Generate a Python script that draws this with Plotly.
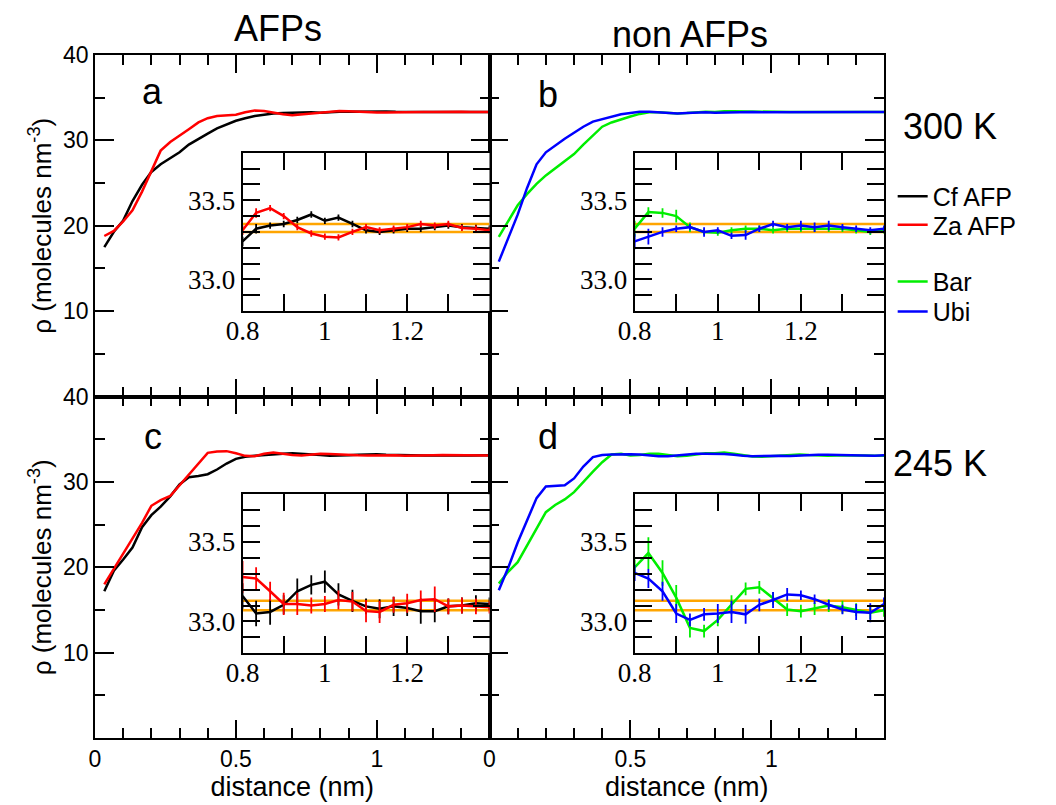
import plotly.graph_objects as go

# ---------------- data ----------------
distance = [0.033, 0.067, 0.100, 0.133, 0.167, 0.200, 0.233, 0.267, 0.300, 0.333,
            0.367, 0.400, 0.433, 0.467, 0.500, 0.533, 0.567, 0.600, 0.633, 0.667,
            0.700, 0.733, 0.767, 0.800, 0.833, 0.867, 0.900, 0.933, 0.967, 1.000,
            1.033, 1.067, 1.100, 1.133, 1.167, 1.200, 1.233, 1.267, 1.300, 1.333,
            1.367, 1.400]

# 300 K
cf_300 = [17.5, 19.3, 20.6, 22.9, 24.8, 26.3, 27.2, 27.9, 28.6, 29.5,
          30.2, 30.8, 31.4, 31.9, 32.3, 32.6, 32.85, 33.0, 33.15, 33.2,
          33.25, 33.28, 33.3,
          33.24, 33.32, 33.34, 33.35, 33.375, 33.41, 33.37, 33.39, 33.35, 33.31,
          33.30, 33.31, 33.32, 33.32, 33.33, 33.34, 33.33, 33.325, 33.32]
za_300 = [18.8, 19.4, 20.5, 21.8, 24.0, 26.3, 28.8, 29.8, 30.6, 31.3,
          32.1, 32.6, 32.85, 32.9, 33.0, 33.3, 33.5, 33.45, 33.25, 33.05,
          32.95, 33.05, 33.2,
          33.31, 33.42, 33.45, 33.40, 33.33, 33.29, 33.27, 33.265, 33.30, 33.33,
          33.31, 33.32, 33.33, 33.35, 33.34, 33.35, 33.325, 33.32, 33.31]
bar_300 = [18.7, 20.6, 22.4, 23.7, 24.9, 25.9, 26.7, 27.5, 28.4, 29.5,
           30.6, 31.6, 32.1, 32.5, 32.8, 33.1, 33.3, 33.3, 33.2, 33.15,
           33.2, 33.3, 33.35,
           33.32, 33.425, 33.42, 33.40, 33.33, 33.30, 33.295, 33.31, 33.32, 33.32,
           33.31, 33.32, 33.32, 33.32, 33.32, 33.32, 33.31, 33.30, 33.31]
ubi_300 = [15.8, 18.6, 21.3, 24.4, 27.2, 28.6, 29.4, 30.2, 30.9, 31.6,
           32.2, 32.5, 32.8, 33.05, 33.2, 33.35, 33.35, 33.3, 33.2, 33.15,
           33.2, 33.25, 33.3,
           33.24, 33.27, 33.30, 33.32, 33.33, 33.30, 33.31, 33.275, 33.28, 33.32,
           33.35, 33.33, 33.34, 33.33, 33.34, 33.33, 33.32, 33.31, 33.32]

# 245 K
cf_245 = [17.2, 19.6, 20.9, 22.3, 24.7, 26.1, 27.1, 28.3, 29.7, 30.55,
          30.7, 30.9, 31.45, 32.15, 32.7, 32.95, 33.05, 33.15, 33.2, 33.3,
          33.35, 33.3, 33.2,
          33.16, 33.05, 33.06, 33.105, 33.19, 33.23, 33.25, 33.17, 33.13, 33.095,
          33.08, 33.095, 33.085, 33.065, 33.065, 33.095, 33.10, 33.115, 33.11]
za_245 = [18.0, 19.8, 21.5, 23.3, 25.2, 27.2, 27.85, 28.35, 29.6, 30.9,
          32.2, 33.4, 33.55, 33.6, 33.35, 33.05, 33.0, 33.3, 33.45, 33.3,
          33.15, 33.1, 33.2,
          33.28, 33.27, 33.19, 33.11, 33.11, 33.10, 33.11, 33.135, 33.125, 33.065,
          33.06, 33.105, 33.115, 33.135, 33.14, 33.095, 33.10, 33.095, 33.09]
bar_245 = [18.1, 19.5, 20.6, 22.5, 24.6, 26.45, 27.3, 27.95, 28.8, 30.0,
           31.2, 32.3, 33.2, 33.3, 33.1, 33.15, 33.3, 33.3, 33.15, 33.0,
           33.05, 33.2, 33.35,
           33.34, 33.43, 33.305, 33.15, 32.96, 32.94, 33.01, 33.105, 33.205, 33.215,
           33.145, 33.075, 33.065, 33.08, 33.10, 33.09, 33.075, 33.055, 33.07]
ubi_245 = [17.3, 20.0, 22.9, 25.4, 28.1, 29.45, 29.5, 29.6, 30.4, 31.8,
           32.9, 33.15, 33.2, 33.25, 33.25, 33.2, 33.1, 33.0, 33.0, 33.1,
           33.25, 33.3, 33.3,
           33.305, 33.27, 33.19, 33.05, 33.01, 33.045, 33.05, 33.06, 33.045, 33.105,
           33.135, 33.17, 33.165, 33.14, 33.105, 33.075, 33.06, 33.055, 33.11]

# error bars for the inset points (distance >= 0.8 nm)
cf_300_err = [0.03, 0.03, 0.02, 0.02, 0.02, 0.02, 0.02, 0.02, 0.02, 0.02,
              0.02, 0.02, 0.02, 0.02, 0.02, 0.02, 0.02, 0.02, 0.02]
za_300_err = [0.03, 0.03, 0.02, 0.02, 0.02, 0.02, 0.02, 0.02, 0.02, 0.02,
              0.02, 0.02, 0.02, 0.02, 0.02, 0.02, 0.02, 0.02, 0.02]
bar_300_err = [0.05, 0.03, 0.03, 0.04, 0.03, 0.02, 0.02, 0.02, 0.02, 0.02,
               0.02, 0.02, 0.02, 0.02, 0.02, 0.02, 0.02, 0.02, 0.02]
ubi_300_err = [0.05, 0.05, 0.03, 0.02, 0.02, 0.03, 0.02, 0.02, 0.03, 0.02,
               0.02, 0.02, 0.03, 0.03, 0.03, 0.02, 0.02, 0.02, 0.02]
cf_245_err = [0.08, 0.08, 0.08, 0.06, 0.08, 0.06, 0.07, 0.07, 0.07, 0.05,
              0.06, 0.06, 0.05, 0.08, 0.07, 0.05, 0.05, 0.05, 0.04]
za_245_err = [0.10, 0.07, 0.06, 0.07, 0.07, 0.05, 0.05, 0.06, 0.06, 0.07,
              0.07, 0.05, 0.06, 0.06, 0.08, 0.05, 0.05, 0.05, 0.04]
bar_245_err = [0.05, 0.10, 0.08, 0.08, 0.06, 0.04, 0.04, 0.06, 0.04, 0.04,
               0.04, 0.04, 0.04, 0.04, 0.04, 0.04, 0.04, 0.04, 0.04]
ubi_245_err = [0.05, 0.06, 0.06, 0.06, 0.04, 0.04, 0.06, 0.07, 0.06, 0.04,
               0.05, 0.04, 0.03, 0.03, 0.03, 0.03, 0.05, 0.06, 0.04]

# bulk density bands (orange lines)
bulk_300 = [33.30, 33.35]
bulk_245 = [33.07, 33.13]
bulk_x = [0.8, 1.4]

INSET_START = 23  # index of distance 0.8

colors = {"Cf AFP": "#000000", "Za AFP": "#ff0000", "Bar": "#00ee00", "Ubi": "#0000ff"}
legend_of = {"Cf AFP": "legend", "Za AFP": "legend2", "Bar": "legend3", "Ubi": "legend4"}

panels = [
    (("x", "y"), ("x5", "y5"), [("Cf AFP", cf_300, cf_300_err), ("Za AFP", za_300, za_300_err)], bulk_300),
    (("x2", "y2"), ("x6", "y6"), [("Bar", bar_300, bar_300_err), ("Ubi", ubi_300, ubi_300_err)], bulk_300),
    (("x3", "y3"), ("x7", "y7"), [("Cf AFP", cf_245, cf_245_err), ("Za AFP", za_245, za_245_err)], bulk_245),
    (("x4", "y4"), ("x8", "y8"), [("Bar", bar_245, bar_245_err), ("Ubi", ubi_245, ubi_245_err)], bulk_245),
]

fig = go.Figure()
shown = set()
for (mx, my), (ix, iy), series, bulk in panels:
    for name, data, err in series:
        fig.add_trace(go.Scatter(
            x=distance, y=data, xaxis=mx, yaxis=my, mode="lines",
            line=dict(color=colors[name], width=2.5), name=name,
            legend=legend_of[name], showlegend=name not in shown))
        shown.add(name)
    for b in bulk:
        fig.add_trace(go.Scatter(
            x=bulk_x, y=[b, b], xaxis=ix, yaxis=iy, mode="lines",
            line=dict(color="#ffa500", width=2.5), showlegend=False, hoverinfo="skip"))
    for name, data, err in series:
        fig.add_trace(go.Scatter(
            x=distance[INSET_START:], y=data[INSET_START:], xaxis=ix, yaxis=iy,
            mode="lines", line=dict(color=colors[name], width=2.5),
            error_y=dict(type="data", array=err, color=colors[name], thickness=1.8, width=0),
            showlegend=False))

SANS = "Liberation Sans, Arial, sans-serif"
SERIF = "Liberation Serif, Times New Roman, serif"

x_major = [0, 0.5, 1.0]
x_minor = [0.1, 0.2, 0.3, 0.4, 0.6, 0.7, 0.8, 0.9, 1.1, 1.2, 1.3]
y_major = [10, 20, 30, 40]
y_minor = [5, 15, 25, 35]


def main_x(domain, anchor, labels):
    return dict(domain=domain, anchor=anchor, range=[0, 1.4], tickmode="array",
                tickvals=x_major, ticktext=["0", "0.5", "1"], showticklabels=labels,
                ticks="inside", ticklen=18, tickwidth=1.5, tickcolor="black",
                minor=dict(tickmode="array", tickvals=x_minor, ticks="inside", ticklen=10,
                           tickwidth=1.5, tickcolor="black"),
                showline=True, linecolor="black", linewidth=1.5, mirror="ticks",
                showgrid=False, zeroline=False,
                tickfont=dict(family=SANS, size=23, color="black"))


def main_y(domain, anchor, labels):
    return dict(domain=domain, anchor=anchor, range=[0, 40], tickmode="array",
                tickvals=y_major, ticktext=[str(v) for v in y_major], showticklabels=labels,
                ticks="inside", ticklen=19, tickwidth=1.5, tickcolor="black",
                minor=dict(tickmode="array", tickvals=y_minor, ticks="inside", ticklen=10,
                           tickwidth=1.5, tickcolor="black"),
                showline=True, linecolor="black", linewidth=1.5, mirror="ticks",
                showgrid=False, zeroline=False,
                tickfont=dict(family=SANS, size=23, color="black"))


inset_xt = [0.8, 0.9, 1.0, 1.1, 1.2, 1.3]
inset_xl = ["0.8", " ", "1", " ", "1.2", " "]
inset_yt = [32.9, 33.0, 33.1, 33.2, 33.3, 33.4, 33.5, 33.6, 33.7]
inset_yl = [" ", "33.0", " ", " ", " ", " ", "33.5", " ", " "]


def inset_x(domain, anchor):
    return dict(domain=domain, anchor=anchor, range=[0.8, 1.4], tickmode="array",
                tickvals=inset_xt, ticktext=inset_xl, ticks="inside", ticklen=17,
                tickwidth=1.5, tickcolor="black", showline=True, linecolor="black",
                linewidth=2, mirror="ticks", showgrid=False, zeroline=False,
                ticklabelstandoff=-6,
                tickfont=dict(family=SERIF, size=27, color="black"))


def inset_y(domain, anchor):
    return dict(domain=domain, anchor=anchor, range=[32.8, 33.8], tickmode="array",
                tickvals=inset_yt, ticktext=inset_yl, ticks="inside", ticklen=17,
                tickwidth=1.5, tickcolor="black", showline=True, linecolor="black",
                linewidth=2, mirror="ticks", showgrid=False, zeroline=False,
                tickfont=dict(family=SERIF, size=27, color="black"))


ytitle = dict(text="ρ (molecules nm<sup>-3</sup>)", font=dict(family=SANS, size=26, color="black"),
              standoff=4)
xtitle = dict(text="distance (nm)", font=dict(family=SANS, size=27, color="black"), standoff=2)

ix_l, ix_r = [0.187, 0.5], [0.684, 1.0]
iy_t, iy_b = [0.625, 0.857], [0.124, 0.357]

legend_style = dict(x=1.011, xanchor="left", yanchor="middle",
                    font=dict(family=SANS, size=25, color="black"),
                    bgcolor="rgba(0,0,0,0)", itemwidth=30)

fig.update_layout(
    width=1056, height=805,
    margin=dict(l=95, r=172, t=55, b=64),
    paper_bgcolor="white", plot_bgcolor="white",
    xaxis=main_x([0, 0.5], "y", False),
    yaxis={**main_y([0.5, 1], "x", True), "title": ytitle},
    xaxis2=main_x([0.5, 1], "y2", False),
    yaxis2=main_y([0.5, 1], "x2", False),
    xaxis3={**main_x([0, 0.5], "y3", True), "title": xtitle},
    yaxis3={**main_y([0, 0.5], "x3", True), "title": ytitle},
    xaxis4={**main_x([0.5, 1], "y4", True), "title": xtitle},
    yaxis4=main_y([0, 0.5], "x4", False),
    xaxis5=inset_x(ix_l, "y5"), yaxis5=inset_y(iy_t, "x5"),
    xaxis6=inset_x(ix_r, "y6"), yaxis6=inset_y(iy_t, "x6"),
    xaxis7=inset_x(ix_l, "y7"), yaxis7=inset_y(iy_b, "x7"),
    xaxis8=inset_x(ix_r, "y8"), yaxis8=inset_y(iy_b, "x8"),
    showlegend=True,
    legend=dict(y=0.793, **legend_style),
    legend2=dict(y=0.751, **legend_style),
    legend3=dict(y=0.668, **legend_style),
    legend4=dict(y=0.624, **legend_style),
)

ann = [
    ("AFPs", 0.232, 1.039, 36),
    ("non AFPs", 0.754, 1.030, 36),
    ("300 K", 1.084, 0.895, 36),
    ("245 K", 1.071, 0.402, 36),
    ("a", 0.0735, 0.946, 36),
    ("b", 0.574, 0.942, 36),
    ("c", 0.0735, 0.4417, 36),
    ("d", 0.574, 0.4417, 36),
]
for text, x, y, size in ann:
    fig.add_annotation(text=text, x=x, y=y, xref="paper", yref="paper",
                       xanchor="center", yanchor="middle", showarrow=False,
                       font=dict(family=SANS, size=size, color="black"))

fig.write_html("out.html")
